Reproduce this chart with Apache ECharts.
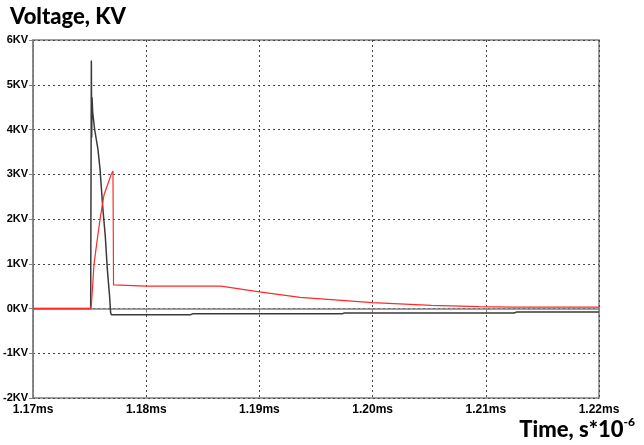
<!DOCTYPE html>
<html><head><meta charset="utf-8">
<script src="https://cdn.jsdelivr.net/npm/echarts@6/dist/echarts.min.js"></script>
<style>html,body{margin:0;padding:0;background:#fff}#c{width:644px;height:445px}</style>
</head><body><div id="c"></div>
<script>
// Time in ms, voltage in KV
const blackT = [1.170, 1.17509, 1.17515, 1.17518, 1.17521, 1.17527, 1.17544, 1.17573, 1.17592, 1.17604, 1.17617, 1.17638, 1.17656, 1.17676, 1.17685, 1.17692, 1.1839, 1.1841, 1.1973, 1.1975, 1.2125, 1.2127, 1.220];
const blackV = [0, 0, 5.54, 3.82, 4.72, 4.38, 4.0, 3.56, 3.11, 2.67, 2.22, 1.62, 0.88, 0.28, -0.09, -0.14, -0.14, -0.12, -0.12, -0.10, -0.10, -0.08, -0.08];
const redT = [1.170, 1.17509, 1.17515, 1.17538, 1.17568, 1.17597, 1.17626, 1.17656, 1.17691, 1.17706, 1.17711, 1.1800, 1.1866, 1.1900, 1.1936, 1.2000, 1.2052, 1.2094, 1.2124, 1.2200];
const redV = [0, 0, 0.07, 0.97, 1.56, 2.08, 2.53, 2.75, 3.0, 3.07, 0.53, 0.50, 0.50, 0.37, 0.25, 0.13, 0.07, 0.04, 0.03, 0.03];
const xTicks = ['1.17ms', '1.18ms', '1.19ms', '1.20ms', '1.21ms', '1.22ms'];
const yTicks = ['-2KV', '-1KV', '0KV', '1KV', '2KV', '3KV', '4KV', '5KV', '6KV'];

const pair = (t, v) => t.map((x, i) => [x, v[i]]);
const chart = echarts.init(document.getElementById('c'), null, {renderer: 'canvas'});
const lblFont = {fontFamily: 'Liberation Sans, Arial, sans-serif', fontWeight: 'bold', fontSize: 12, color: '#000'};
chart.setOption({
  animation: false,
  backgroundColor: '#fff',
  grid: {left: 32, right: 45, top: 40, bottom: 47, show: true, borderColor: '#808080', borderWidth: 1.5},
  title: [
    {text: 'Voltage, KV', left: 5, top: 1, textStyle: {fontFamily: 'Lato, sans-serif', fontWeight: 900, fontSize: 22, color: '#000'}},
    {text: '{a|Time, s*10}{b|-6}', right: 4, bottom: -1,
     textStyle: {rich: {
       a: {fontFamily: 'Lato, sans-serif', fontWeight: 900, fontSize: 22, color: '#000', verticalAlign: 'bottom'},
       b: {fontFamily: 'Lato, sans-serif', fontWeight: 900, fontSize: 12, color: '#000', verticalAlign: 'top', padding: [0, 0, 13, 0]}
     }}}
  ],
  xAxis: {
    type: 'value', min: 1.17, max: 1.22, interval: 0.01,
    axisLine: {show: true, lineStyle: {color: '#808080', width: 1.5}},
    axisTick: {show: true, length: 4, lineStyle: {color: '#808080'}},
    axisLabel: Object.assign({margin: 6, formatter: (v) => xTicks[Math.round((v - 1.17) / 0.01)]}, lblFont),
    splitLine: {show: true, lineStyle: {color: '#444', type: [2, 3], width: 1}}
  },
  yAxis: {
    type: 'value', min: -2, max: 6, interval: 1,
    axisLine: {show: true, lineStyle: {color: '#808080', width: 1.5}},
    axisTick: {show: true, length: 4, lineStyle: {color: '#808080'}},
    axisLabel: Object.assign({margin: 5, formatter: (v) => yTicks[Math.round(v + 2)]}, lblFont, {fontSize: 11}),
    splitLine: {show: true, lineStyle: {color: '#444', type: [2, 3], width: 1}}
  },
  series: [
    {type: 'line', data: pair(blackT, blackV), showSymbol: false, lineStyle: {color: '#3a3a3a', width: 1.5}, z: 2},
    {type: 'line', data: pair(redT, redV), showSymbol: false, lineStyle: {color: '#ff2a2a', width: 1.2}, z: 3}
  ]
});
</script></body></html>
